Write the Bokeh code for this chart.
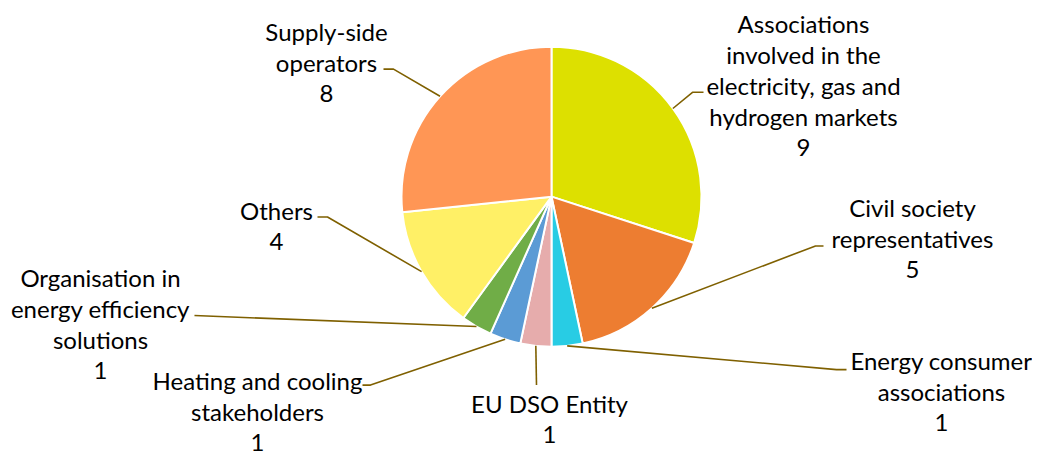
import math
from bokeh.plotting import figure
from bokeh.models import Range1d, ColumnDataSource
from bokeh.embed import file_html
from bokeh.resources import INLINE
from bokeh.core.properties import value

# ---- data ----
categories = [
    "Associations\ninvolved in the\nelectricity, gas and\nhydrogen markets",
    "Civil society\nrepresentatives",
    "Energy consumer\nassociations",
    "EU DSO Entity",
    "Heating and cooling\nstakeholders",
    "Organisation in\nenergy efficiency\nsolutions",
    "Others",
    "Supply-side\noperators",
]
counts = [9, 5, 1, 1, 1, 1, 4, 8]
colors = ["#DDE000", "#ED7D31", "#28CCE4", "#E6ACAC", "#5B9BD5", "#70AD47", "#FFF066", "#FF9655"]

# ---- layout (reference pixels; y is scaled to the plot height) ----
W, H = 1032, 459
SY = H / 475.0
CX, CY, R = 551, 203, 150
label_x = [803, 912, 941, 549, 257, 100, 276, 326]
label_y = [24, 214, 373, 417, 393, 287, 217, 32]
elbow_x = [692, 815, 836, 536, 370, 194, 327, 393]
elbow_y = [95, 254, 382, 398, 398, 326, 224, 71]
tail = [11, 8, 10, 0, -8, 0, -10, -10]
LINE_H = 32
LEADER = "#7F6000"

p = figure(width=W, height=H, output_backend="svg", toolbar_location=None,
           x_axis_type=None, y_axis_type=None, min_border=0,
           x_range=Range1d(0, W), y_range=Range1d(-H, 0))
p.outline_line_color = None
p.grid.visible = False
p.background_fill_color = "white"
p.border_fill_color = "white"

cy = CY * SY
total = sum(counts)
starts, ends, mids = [], [], []
acc = 0
for c in counts:
    t0 = acc / total * 2 * math.pi
    acc += c
    t1 = acc / total * 2 * math.pi
    starts.append(math.pi / 2 - t1)
    ends.append(math.pi / 2 - t0)
    mids.append((t0 + t1) / 2)

src = ColumnDataSource(dict(start=starts, end=ends, color=colors))
p.wedge(x=CX, y=-cy, radius=R, start_angle="start", end_angle="end",
        fill_color="color", line_color="white", line_width=2, source=src)

# leader lines
xs, ys = [], []
for i, m in enumerate(mids):
    sx = CX + R * math.sin(m)
    sy = cy - R * math.cos(m)
    ey = elbow_y[i] * SY
    xs.append([sx, elbow_x[i], elbow_x[i] + tail[i]])
    ys.append([-sy, -ey, -ey])
p.multi_line(xs=xs, ys=ys, line_color=LEADER, line_width=1.6)

# labels
tx, ty, tt = [], [], []
for i, cat in enumerate(categories):
    lines = cat.split("\n") + [str(counts[i])]
    for j, ln in enumerate(lines):
        tx.append(label_x[i])
        ty.append(-(label_y[i] + j * LINE_H) * SY)
        tt.append(ln)
p.text(x=tx, y=ty, text=tt, text_font=value("Lato"), text_font_size="24px",
       text_align="center", text_baseline="middle", text_color="#000000")

open("out.html", "w").write(file_html(p, INLINE))
